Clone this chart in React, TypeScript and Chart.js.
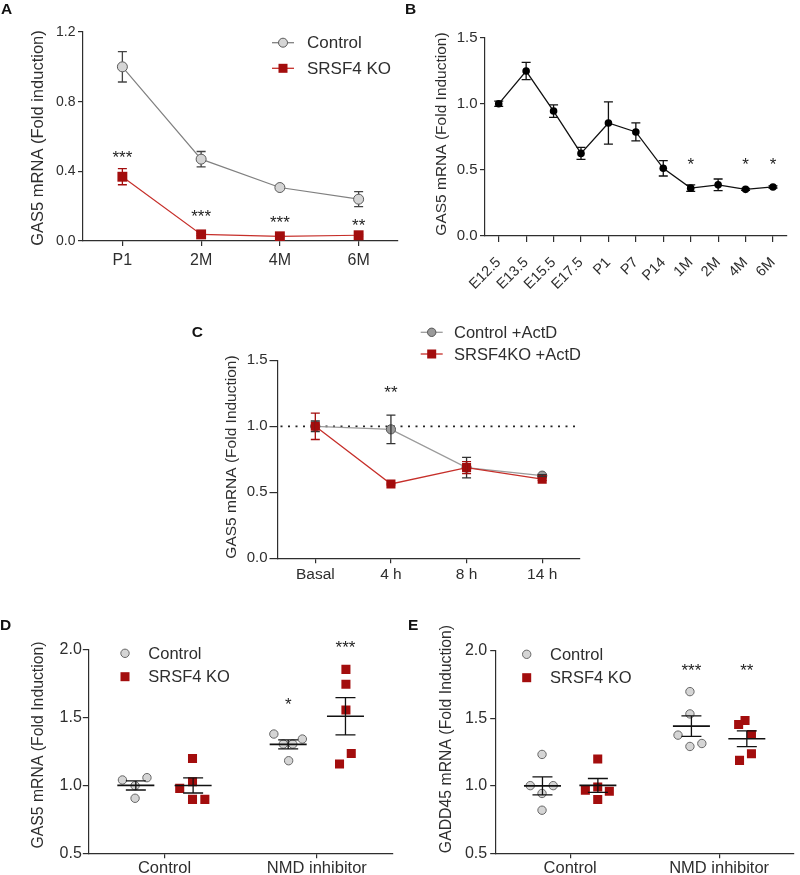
import React, { useEffect, useRef } from 'react';
import { Chart, registerables } from 'chart.js';

Chart.register(...registerables);

const FONT = "'Liberation Sans', Arial, Helvetica, sans-serif";
const INK = '#2e2e2e';
const STAR_INK = '#1e1e1e';
const RED = '#a30d0d';
const RED_LINE = '#c62f2a';
const GRAY_FILL = '#d5d5d5';
const GRAY_EDGE = '#5a5a5a';
const DARK_GRAY_FILL = '#9a9a9a';

// ---------------- Panel A ----------------
const aCategories = ['P1', '2M', '4M', '6M'];
const aControl = [1.0, 0.47, 0.307, 0.24];
const aControlErr = [0.087, 0.044, 0.008, 0.043];
const aKO = [0.369, 0.038, 0.027, 0.033];
const aKOErr = [0.046, 0.006, 0.004, 0.005];
const aStars = ['***', '***', '***', '**'];
const aStarY = [0.503, 0.163, 0.129, 0.115];

// ---------------- Panel B ----------------
const bCategories = ['E12.5', 'E13.5', 'E15.5', 'E17.5', 'P1', 'P7', 'P14', '1M', '2M', '4M', '6M'];
const bValues = [1.0, 1.248, 0.945, 0.625, 0.855, 0.787, 0.512, 0.362, 0.387, 0.353, 0.371];
const bErr = [0.02, 0.065, 0.047, 0.045, 0.16, 0.068, 0.058, 0.025, 0.044, 0.008, 0.008];
const bStars = ['', '', '', '', '', '', '', '*', '', '*', '*'];
const bStarY = [0, 0, 0, 0, 0, 0, 0, 0.575, 0, 0.575, 0.575];

// ---------------- Panel C ----------------
const cCategories = ['Basal', '4 h', '8 h', '14 h'];
const cControl = [1.0, 0.977, 0.687, 0.626];
const cControlErr = [0.04, 0.108, 0.078, 0.008];
const cKO = [1.0, 0.563, 0.687, 0.6];
const cKOErr = [0.1, 0.006, 0.045, 0.01];
const cStars = ['', '**', '', ''];
const cStarY = [0, 1.288, 0, 0];
const cReference = 1.0;

// ---------------- Panels D & E ----------------
const groupCategories = ['Control', 'NMD inhibitor'];

const dControlValues = [
  [1.041, 1.058, 0.999, 0.906],
  [1.38, 1.343, 1.306, 1.306, 1.183],
];
const dControlJitter = [
  [-0.088, 0.073, -0.005, -0.005],
  [-0.094, 0.093, -0.032, 0.03, 0.003],
];
const dKOValues = [
  [1.2, 0.979, 1.028, 0.898, 0.898],
  [1.857, 1.748, 1.557, 1.237, 1.159],
];
const dKOJitter = [
  [-0.004, -0.088, -0.004, -0.004, 0.077],
  [0.003, 0.003, 0.003, 0.038, -0.039],
];
const dStars = [['', ''], ['*', '***']];
const dStarY = [[0, 0], [1.63, 2.05]];

const eControlValues = [
  [1.232, 1.001, 1.001, 0.943, 0.819],
  [1.697, 1.532, 1.375, 1.313, 1.291],
];
const eControlJitter = [
  [-0.003, -0.082, 0.072, -0.003, -0.003],
  [-0.01, -0.01, -0.09, 0.07, -0.01],
];
const eKOValues = [
  [1.198, 0.967, 0.991, 0.959, 0.898],
  [1.483, 1.454, 1.38, 1.237, 1.188],
];
const eKOJitter = [
  [-0.001, -0.084, -0.001, 0.077, -0.001],
  [-0.012, -0.055, 0.031, 0.031, -0.049],
];
const eStars = [['', ''], ['***', '**']];
const eStarY = [[0, 0], [1.881, 1.881]];

// ---------------- helpers ----------------
function font(size: number, weight = 'normal') {
  return `${weight} ${size}px ${FONT}`;
}

function drawLetter(ctx: any, letter: string, x: number, y: number) {
  ctx.save();
  ctx.font = font(15.5, 'bold');
  ctx.fillStyle = '#111';
  ctx.textAlign = 'left';
  ctx.textBaseline = 'alphabetic';
  ctx.fillText(letter, x, y);
  ctx.restore();
}

function drawYTitle(ctx: any, text: string, cx: number, cy: number, size: number) {
  ctx.save();
  ctx.translate(cx, cy);
  ctx.rotate(-Math.PI / 2);
  ctx.font = font(size);
  ctx.fillStyle = INK;
  ctx.textAlign = 'center';
  ctx.textBaseline = 'middle';
  ctx.fillText(text, 0, 0);
  ctx.restore();
}

function drawStar(ctx: any, text: string, x: number, yCenter: number, size: number) {
  if (!text) return;
  ctx.save();
  ctx.font = font(size);
  ctx.fillStyle = STAR_INK;
  ctx.textAlign = 'center';
  ctx.textBaseline = 'alphabetic';
  ctx.fillText(text, x, yCenter + size * 0.57);
  ctx.restore();
}

function drawMarker(ctx: any, kind: string, x: number, y: number, size: number, fill: string, edge: string) {
  ctx.save();
  ctx.fillStyle = fill;
  ctx.strokeStyle = edge;
  ctx.lineWidth = 1;
  if (kind === 'circle') {
    ctx.beginPath();
    ctx.arc(x, y, size, 0, Math.PI * 2);
    ctx.fill();
    ctx.stroke();
  } else {
    ctx.fillRect(x - size, y - size, size * 2, size * 2);
  }
  ctx.restore();
}

function drawLegendItem(
  ctx: any,
  kind: string,
  mx: number,
  y: number,
  tx: number,
  text: string,
  size: number,
  fill: string,
  edge: string,
  lineColor: string | null,
  fontSize: number
) {
  if (lineColor) {
    ctx.save();
    ctx.strokeStyle = lineColor;
    ctx.lineWidth = 1.3;
    ctx.beginPath();
    ctx.moveTo(mx - 11, y);
    ctx.lineTo(mx + 11, y);
    ctx.stroke();
    ctx.restore();
  }
  drawMarker(ctx, kind, mx, y, size, fill, edge);
  ctx.save();
  ctx.font = font(fontSize);
  ctx.fillStyle = INK;
  ctx.textAlign = 'left';
  ctx.textBaseline = 'middle';
  ctx.fillText(text, tx, y + 1);
  ctx.restore();
}

function errorBarPlugin(capHalf: number, after: boolean) {
  const draw = (chart: any) => {
    const { ctx } = chart;
    const y = chart.scales.y;
    chart.data.datasets.forEach((ds: any, i: number) => {
      if (!ds.errors) return;
      const meta = chart.getDatasetMeta(i);
      meta.data.forEach((pt: any, j: number) => {
        const v = ds.data[j];
        const e = ds.errors[j];
        const x = pt.x;
        const yt = y.getPixelForValue(v + e);
        const yb = y.getPixelForValue(v - e);
        ctx.save();
        ctx.strokeStyle = ds.errorColor;
        ctx.lineWidth = 1.3;
        ctx.beginPath();
        ctx.moveTo(x, yt);
        ctx.lineTo(x, yb);
        ctx.moveTo(x - capHalf, yt);
        ctx.lineTo(x + capHalf, yt);
        ctx.moveTo(x - capHalf, yb);
        ctx.lineTo(x + capHalf, yb);
        ctx.stroke();
        ctx.restore();
      });
    });
  };
  return after ? { id: 'errbarsAfter', afterDatasetsDraw: draw } : { id: 'errbarsBefore', beforeDatasetsDraw: draw };
}

function yAxis(min: number, max: number, step: number, width: number, fontSize: number, tickLen: number, pad: number) {
  return {
    type: 'linear',
    min,
    max,
    ticks: {
      stepSize: step,
      font: { family: FONT, size: fontSize },
      color: INK,
      padding: pad,
      callback: (v: any) => Number(v).toFixed(1),
    },
    grid: { drawOnChartArea: false, drawTicks: true, tickLength: tickLen, color: INK, lineWidth: 1.2 },
    border: { display: true, color: INK, width: 1.2 },
    title: { display: false },
    afterFit: (s: any) => {
      s.width = width;
    },
  };
}

function xCategory(height: number, fontSize: number, tickLen: number, pad: number, rotation = 0) {
  return {
    type: 'category',
    offset: true,
    ticks: {
      font: { family: FONT, size: fontSize },
      color: INK,
      padding: pad,
      minRotation: rotation,
      maxRotation: rotation,
      autoSkip: false,
    },
    grid: { drawOnChartArea: false, drawTicks: true, tickLength: tickLen, color: INK, lineWidth: 1.2, offset: false },
    border: { display: true, color: INK, width: 1.2 },
    afterFit: (s: any) => {
      s.height = height;
    },
  };
}

function baseOptions(padding: any, scales: any) {
  return {
    responsive: false,
    maintainAspectRatio: false,
    animation: false,
    layout: { padding },
    plugins: { legend: { display: false }, tooltip: { enabled: false }, title: { display: false } },
    scales,
  };
}

// ---------------- chart configs ----------------
function buildA() {
  return {
    type: 'line',
    data: {
      labels: aCategories,
      datasets: [
        {
          label: 'Control',
          data: aControl,
          errors: aControlErr,
          errorColor: '#444',
          borderColor: '#808080',
          borderWidth: 1.2,
          pointStyle: 'circle',
          pointRadius: 5,
          pointBackgroundColor: GRAY_FILL,
          pointBorderColor: GRAY_EDGE,
          pointBorderWidth: 1,
        },
        {
          label: 'SRSF4 KO',
          data: aKO,
          errors: aKOErr,
          errorColor: RED,
          borderColor: RED_LINE,
          borderWidth: 1.2,
          pointStyle: 'rect',
          pointRadius: 7,
          pointBackgroundColor: RED,
          pointBorderColor: RED,
          pointBorderWidth: 0,
        },
      ],
    },
    options: baseOptions(
      { left: 0, top: 32, right: 3, bottom: 0 },
      {
        x: xCategory(49, 16, 5, 4.5),
        y: yAxis(0, 1.2, 0.4, 83, 14, 5, 2.5),
      }
    ),
    plugins: [
      errorBarPlugin(4.5, false),
      {
        id: 'decorA',
        afterDraw(chart: any) {
          const { ctx } = chart;
          const { x, y } = chart.scales;
          drawLetter(ctx, 'A', 1, 13.5);
          drawYTitle(ctx, 'GAS5 mRNA (Fold induction)', 38, 138, 16.5);
          aStars.forEach((s, i) => drawStar(ctx, s, x.getPixelForTick(i), y.getPixelForValue(aStarY[i]), 17));
          drawLegendItem(ctx, 'circle', 283, 42.7, 307, 'Control', 4.5, GRAY_FILL, GRAY_EDGE, '#808080', 17);
          drawLegendItem(ctx, 'rect', 283, 68.3, 307, 'SRSF4 KO', 4.5, RED, RED, RED_LINE, 17);
        },
      },
    ],
  };
}

function buildB() {
  return {
    type: 'line',
    data: {
      labels: bCategories,
      datasets: [
        {
          label: 'GAS5',
          data: bValues,
          errors: bErr,
          errorColor: '#111',
          borderColor: '#111',
          borderWidth: 1.3,
          pointStyle: 'circle',
          pointRadius: 3.8,
          pointBackgroundColor: '#000',
          pointBorderColor: '#000',
          pointBorderWidth: 0,
        },
      ],
    },
    options: baseOptions(
      { left: 0, top: 37.7, right: 13.3, bottom: 0 },
      {
        x: xCategory(54, 14.5, 6, 12, 45),
        y: yAxis(0, 1.5, 0.5, 80, 15, 5, 2.5),
      }
    ),
    plugins: [
      errorBarPlugin(4.5, false),
      {
        id: 'decorB',
        afterDraw(chart: any) {
          const { ctx } = chart;
          const { x, y } = chart.scales;
          drawLetter(ctx, 'B', 0, 14);
          drawYTitle(ctx, 'GAS5 mRNA (Fold Induction)', 36.7, 134, 15.5);
          bStars.forEach((s, i) => drawStar(ctx, s, x.getPixelForTick(i), y.getPixelForValue(bStarY[i]), 17));
        },
      },
    ],
  };
}

function buildC() {
  return {
    type: 'line',
    data: {
      labels: cCategories,
      datasets: [
        {
          label: 'Control +ActD',
          data: cControl,
          errors: cControlErr,
          errorColor: '#333',
          borderColor: '#9b9b9b',
          borderWidth: 1.3,
          pointStyle: 'circle',
          pointRadius: 4.6,
          pointBackgroundColor: DARK_GRAY_FILL,
          pointBorderColor: '#555',
          pointBorderWidth: 1,
          order: 2,
        },
        {
          label: 'SRSF4KO +ActD',
          data: cKO,
          errors: cKOErr,
          errorColor: RED,
          borderColor: RED_LINE,
          borderWidth: 1.3,
          pointStyle: 'rect',
          pointRadius: 6.4,
          pointBackgroundColor: RED,
          pointBorderColor: RED,
          pointBorderWidth: 0,
          order: 1,
        },
      ],
    },
    options: baseOptions(
      { left: 0, top: 60.3, right: 20, bottom: 0 },
      {
        x: xCategory(31.7, 15.5, 5, 2),
        y: yAxis(0, 1.5, 0.5, 97.5, 15, 8, 2),
      }
    ),
    plugins: [
      {
        id: 'refLine',
        beforeDatasetsDraw(chart: any) {
          const { ctx, chartArea } = chart;
          const y = chart.scales.y.getPixelForValue(cReference);
          ctx.save();
          ctx.strokeStyle = '#222';
          ctx.lineWidth = 1.8;
          ctx.setLineDash([2, 5.5]);
          ctx.beginPath();
          ctx.moveTo(chartArea.left + 3, y);
          ctx.lineTo(chartArea.right, y);
          ctx.stroke();
          ctx.restore();
        },
      },
      errorBarPlugin(4.5, true),
      {
        id: 'decorC',
        afterDraw(chart: any) {
          const { ctx } = chart;
          const { x, y } = chart.scales;
          drawLetter(ctx, 'C', 11.7, 36.7);
          drawYTitle(ctx, 'GAS5 mRNA (Fold Induction)', 51.7, 157, 15.5);
          cStars.forEach((s, i) => drawStar(ctx, s, x.getPixelForTick(i), y.getPixelForValue(cStarY[i]), 17));
          drawLegendItem(ctx, 'circle', 251.7, 32.3, 274, 'Control +ActD', 4.2, DARK_GRAY_FILL, '#555', '#9b9b9b', 16.5);
          drawLegendItem(ctx, 'rect', 251.7, 54, 274, 'SRSF4KO +ActD', 4.5, RED, RED, RED_LINE, 16.5);
        },
      },
    ],
  };
}

function mean(a: number[]) {
  return a.reduce((s, v) => s + v, 0) / a.length;
}
function sem(a: number[]) {
  const m = mean(a);
  const sd = Math.sqrt(a.reduce((s, v) => s + (v - m) * (v - m), 0) / (a.length - 1));
  return sd / Math.sqrt(a.length);
}

function buildDot(cfg: any) {
  const shift = cfg.shift;
  const toPoints = (values: number[][], jitter: number[][], side: number) =>
    groupCategories.flatMap((_, i) =>
      values[i].map((v, k) => ({ x: i + 1 + side * shift + jitter[i][k], y: v }))
    );
  return {
    type: 'scatter',
    data: {
      datasets: [
        {
          label: 'Control',
          data: toPoints(cfg.ctrl, cfg.ctrlJ, -1),
          pointStyle: 'circle',
          pointRadius: 4.2,
          pointBackgroundColor: GRAY_FILL,
          pointBorderColor: '#666',
          pointBorderWidth: 1,
        },
        {
          label: 'SRSF4 KO',
          data: toPoints(cfg.ko, cfg.koJ, 1),
          pointStyle: 'rect',
          pointRadius: 6.4,
          pointBackgroundColor: RED,
          pointBorderColor: RED,
          pointBorderWidth: 0,
        },
      ],
    },
    options: baseOptions(
      { left: 0, top: cfg.top, right: cfg.right, bottom: 0 },
      {
        x: {
          type: 'linear',
          min: 0.5,
          max: 2.5,
          afterBuildTicks: (s: any) => {
            s.ticks = groupCategories.map((_, i) => ({ value: i + 1 }));
          },
          ticks: {
            font: { family: FONT, size: 16.5 },
            color: INK,
            padding: 0.5,
            callback: (v: any) => groupCategories[Math.round(v) - 1],
          },
          grid: { drawOnChartArea: false, drawTicks: true, tickLength: 5, color: INK, lineWidth: 1.2 },
          border: { display: true, color: INK, width: 1.2 },
          afterFit: (s: any) => {
            s.height = cfg.xHeight;
          },
        },
        y: yAxis(0.5, 2.0, 0.5, cfg.yWidth, 16, 5.5, cfg.yPad),
      }
    ),
    plugins: [
      {
        id: 'meanSem',
        afterDatasetsDraw(chart: any) {
          const { ctx } = chart;
          const { x, y } = chart.scales;
          const groups = [
            { vals: cfg.ctrl, side: -1 },
            { vals: cfg.ko, side: 1 },
          ];
          ctx.save();
          ctx.strokeStyle = '#111';
          groups.forEach((g) => {
            g.vals.forEach((vals: number[], i: number) => {
              const cx = x.getPixelForValue(i + 1 + g.side * shift);
              const m = mean(vals);
              const e = sem(vals);
              const ym = y.getPixelForValue(m);
              const yt = y.getPixelForValue(m + e);
              const yb = y.getPixelForValue(m - e);
              ctx.lineWidth = 1.6;
              ctx.beginPath();
              ctx.moveTo(cx - 18.5, ym);
              ctx.lineTo(cx + 18.5, ym);
              ctx.stroke();
              ctx.lineWidth = 1.3;
              ctx.beginPath();
              ctx.moveTo(cx, yt);
              ctx.lineTo(cx, yb);
              ctx.moveTo(cx - 10, yt);
              ctx.lineTo(cx + 10, yt);
              ctx.moveTo(cx - 10, yb);
              ctx.lineTo(cx + 10, yb);
              ctx.stroke();
            });
          });
          ctx.restore();
        },
      },
      {
        id: 'decorDot',
        afterDraw(chart: any) {
          const { ctx } = chart;
          const { x, y } = chart.scales;
          drawLetter(ctx, cfg.letter, cfg.letterX, 40);
          drawYTitle(ctx, cfg.title, cfg.titleX, cfg.titleY, 15.8);
          cfg.stars.forEach((row: string[], i: number) =>
            row.forEach((s: string, side: number) =>
              drawStar(
                ctx,
                s,
                x.getPixelForValue(i + 1 + (side === 0 ? -1 : 1) * shift),
                y.getPixelForValue(cfg.starY[i][side]),
                17
              )
            )
          );
          drawLegendItem(ctx, 'circle', cfg.legX, cfg.legY, cfg.legX + 23.3, 'Control', 4.2, GRAY_FILL, '#666', null, 16.5);
          drawLegendItem(ctx, 'rect', cfg.legX, cfg.legY + 23.4, cfg.legX + 23.3, 'SRSF4 KO', 4.5, RED, RED, null, 16.5);
        },
      },
    ],
  };
}

function buildD() {
  return buildDot({
    ctrl: dControlValues,
    ctrlJ: dControlJitter,
    ko: dKOValues,
    koJ: dKOJitter,
    stars: dStars,
    starY: dStarY,
    shift: 0.188,
    top: 60,
    right: 7,
    xHeight: 21.7,
    yWidth: 88.3,
    yPad: 1,
    letter: 'D',
    letterX: 0,
    title: 'GAS5 mRNA (Fold Induction)',
    titleX: 38.3,
    titleY: 155,
    legX: 125,
    legY: 63.3,
  });
}

function buildE() {
  return buildDot({
    ctrl: eControlValues,
    ctrlJ: eControlJitter,
    ko: eKOValues,
    koJ: eKOJitter,
    stars: eStars,
    starY: eStarY,
    shift: 0.186,
    top: 60.7,
    right: 0,
    xHeight: 21.7,
    yWidth: 95.7,
    yPad: 3,
    letter: 'E',
    letterX: 8,
    title: 'GADD45 mRNA (Fold Induction)',
    titleX: 46.7,
    titleY: 149,
    legX: 126.7,
    legY: 64.3,
  });
}

function ChartPanel({ left, top, width, height, build }: any) {
  const ref = useRef<HTMLCanvasElement>(null);
  useEffect(() => {
    const chart = new Chart(ref.current as any, build());
    return () => chart.destroy();
  }, []);
  return (
    <div style={{ position: 'absolute', left, top, width, height }}>
      <canvas ref={ref} width={width} height={height} style={{ display: 'block', width, height }} />
    </div>
  );
}

export default function App() {
  return (
    <div
      style={{
        position: 'absolute',
        left: 0,
        top: 0,
        width: 800,
        height: 875,
        background: '#fff',
        overflow: 'hidden',
      }}
    >
      <ChartPanel left={0} top={0} width={405} height={290} build={buildA} />
      <ChartPanel left={405} top={0} width={395} height={290} build={buildB} />
      <ChartPanel left={180} top={300} width={420} height={290} build={buildC} />
      <ChartPanel left={0} top={590} width={400} height={285} build={buildD} />
      <ChartPanel left={400} top={590} width={400} height={285} build={buildE} />
    </div>
  );
}
